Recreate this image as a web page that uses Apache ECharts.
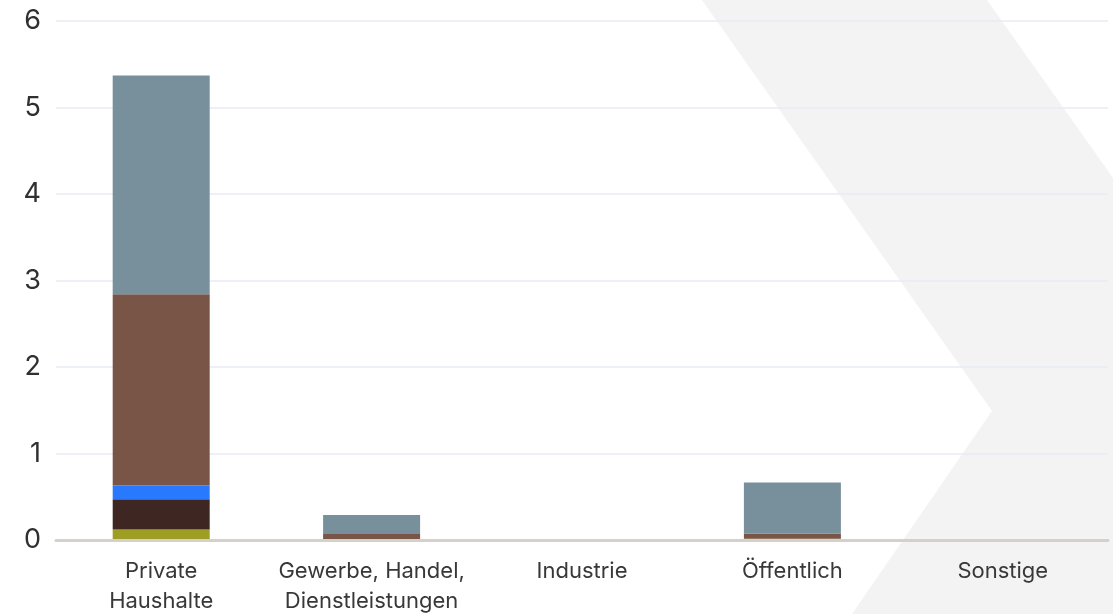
<!DOCTYPE html>
<html>
<head>
<meta charset="utf-8">
<script src="https://cdn.jsdelivr.net/npm/echarts@6/dist/echarts.min.js"></script>
<style>
html,body{margin:0;padding:0;background:#fff;}
#chart{width:1113px;height:614px;}
</style>
</head>
<body>
<div id="chart"></div>
<script>
var categories = ['Private\nHaushalte', 'Gewerbe, Handel,\nDienstleistungen', 'Industrie', 'Öffentlich', 'Sonstige'];
var yTicks = [0, 1, 2, 3, 4, 5, 6];

var seriesNames = ['Kohle', 'Heizöl', 'Strom', 'Fernwärme', 'Erdgas'];
var seriesColors = ['#9e9d24', '#3e2723', '#2979ff', '#795548', '#78909c'];
var kohle     = [0.12, 0,    0, 0.015, 0];
var heizoel   = [0.35, 0,    0, 0,     0];
var strom     = [0.16, 0,    0, 0,     0];
var fernwaerme= [2.21, 0.07, 0, 0.06,  0];
var erdgas    = [2.53, 0.22, 0, 0.59,  0];
var seriesValues = [kohle, heizoel, strom, fernwaerme, erdgas];

var chart = echarts.init(document.getElementById('chart'), null, {renderer: 'canvas'});

var series = seriesNames.map(function (name, i) {
  return {
    name: name,
    type: 'bar',
    stack: 'total',
    barWidth: 97,
    data: seriesValues[i],
    itemStyle: {color: seriesColors[i]},
    emphasis: {disabled: true}
  };
});

chart.setOption({
  animation: false,
  backgroundColor: '#ffffff',
  textStyle: {fontFamily: 'Inter'},
  graphic: [{
    type: 'polygon',
    z: -100,
    silent: true,
    shape: {points: [[702, 0], [987, 0], [1113, 178], [1113, 614], [852, 614], [992, 411]]},
    style: {fill: '#f3f3f3'}
  }],
  grid: {left: 56, right: 5, top: 21, bottom: 74, containLabel: false, outerBoundsMode: 'none'},
  xAxis: {
    type: 'category',
    data: categories,
    axisTick: {show: false},
    axisLine: {show: true, lineStyle: {color: '#d6d0ca', width: 3}},
    axisLabel: {
      color: '#383838',
      fontFamily: 'Inter',
      fontSize: 22,
      lineHeight: 30,
      margin: 16,
      interval: 0
    },
    z: 5
  },
  yAxis: {
    type: 'value',
    min: yTicks[0],
    max: yTicks[yTicks.length - 1],
    interval: 1,
    axisLine: {show: false},
    axisTick: {show: false},
    axisLabel: {color: '#303030', fontFamily: 'Inter', fontSize: 27, margin: 15},
    splitLine: {lineStyle: {color: '#e7ecf5', width: 1.5}}
  },
  series: series
});
</script>
</body>
</html>
